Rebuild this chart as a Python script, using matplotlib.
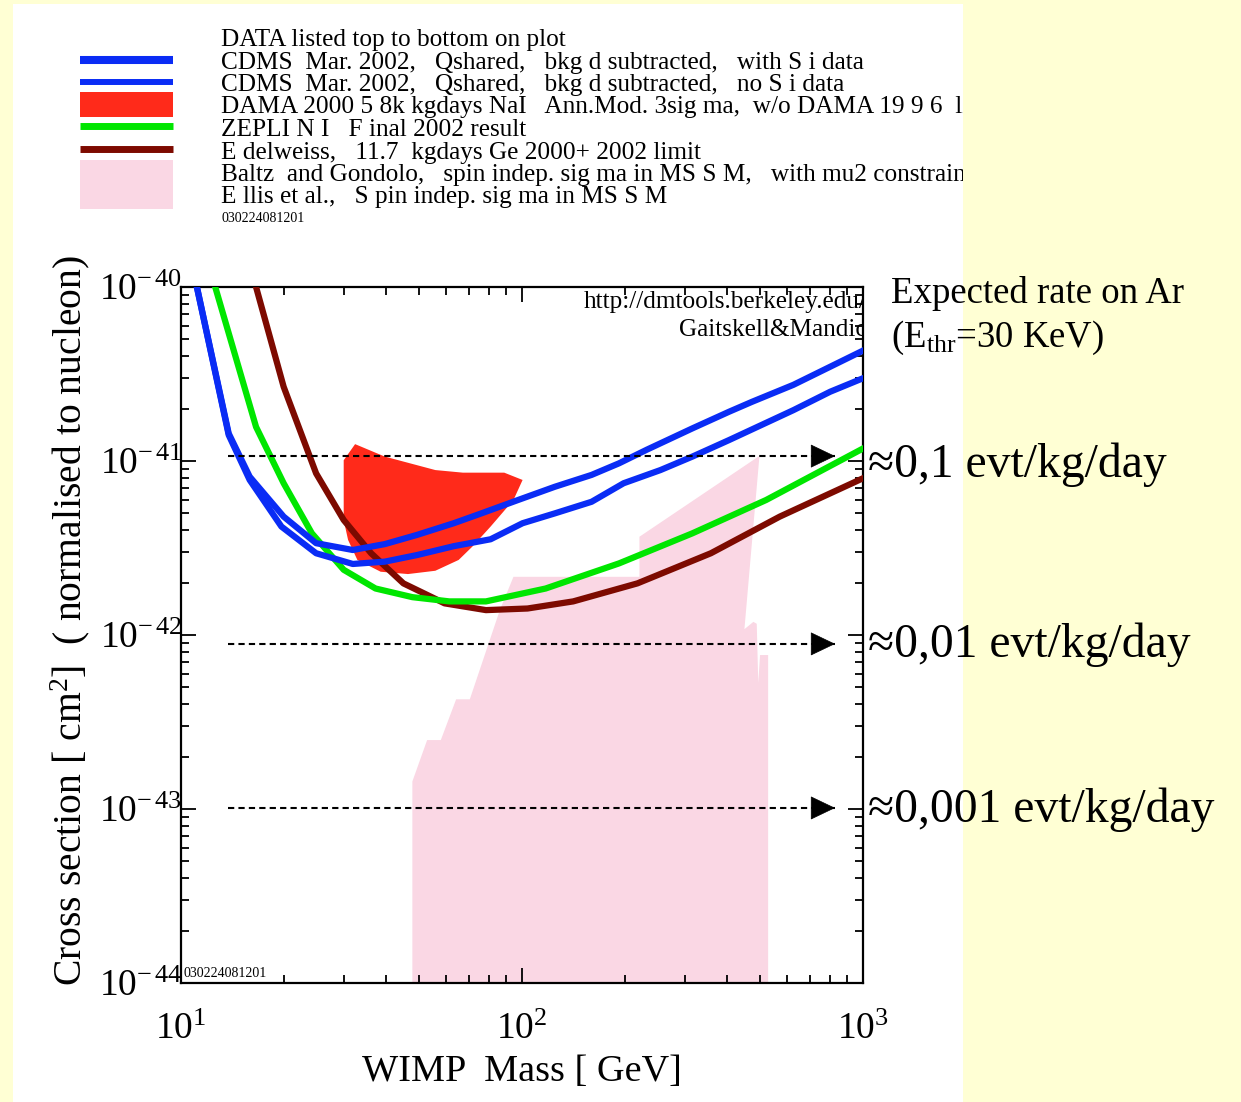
import numpy as np
import matplotlib.pyplot as plt
from matplotlib.patches import Rectangle
from matplotlib.ticker import LogLocator, NullFormatter

plt.rcParams['font.family'] = ['Liberation Serif', 'DejaVu Serif']
plt.rcParams['mathtext.fontset'] = 'custom'
plt.rcParams['mathtext.rm'] = 'Liberation Serif'
plt.rcParams['mathtext.it'] = 'Liberation Serif:italic'

# --- data (WIMP mass in GeV, cross section in cm^2) ---
cdms_si_mass = [10.5, 13.8, 15.9, 20.0, 24.9, 31.9, 39.6, 49.2, 63.1, 76.0, 97.4,
                124.8, 160, 192.6, 232, 316, 405, 473, 625, 801, 1000]
cdms_si_sigma = [1.7e-40, 1.44e-41, 8.13e-42, 4.79e-42, 3.37e-42, 3.08e-42, 3.33e-42,
                 3.76e-42, 4.39e-42, 5.00e-42, 5.97e-42, 7.11e-42, 8.32e-42, 9.70e-42,
                 1.16e-41, 1.54e-41, 1.92e-41, 2.19e-41, 2.74e-41, 3.48e-41, 4.31e-41]

cdms_nosi_mass = [10.5, 13.8, 15.9, 19.7, 24.9, 31.9, 39.6, 49.2, 63.1, 80.9, 100.4,
                  124.8, 160, 198.6, 254.7, 316, 405, 625, 801, 1000]
cdms_nosi_sigma = [1.7e-40, 1.41e-41, 7.78e-42, 4.20e-42, 2.95e-42, 2.56e-42, 2.64e-42,
                   2.88e-42, 3.24e-42, 3.55e-42, 4.39e-42, 5.00e-42, 5.83e-42, 7.45e-42,
                   8.87e-42, 1.06e-41, 1.32e-41, 1.96e-41, 2.50e-41, 2.99e-41]

zeplin_mass = [12.0, 12.6, 16.6, 20.0, 24.2, 30.0, 37.2, 47.7, 61.2, 78.4, 117.3,
               192.6, 316, 520, 1000]
zeplin_sigma = [1.38e-40, 1.0e-40, 1.57e-41, 7.45e-42, 3.84e-42, 2.37e-42, 1.85e-42,
                1.65e-42, 1.56e-42, 1.56e-42, 1.85e-42, 2.58e-42, 3.84e-42, 5.97e-42,
                1.18e-41]

edel_mass = [16.0, 16.6, 20.0, 24.9, 30.0, 36.1, 44.9, 59.3, 78.4, 103.8, 141.3,
             218, 358, 570, 1000]
edel_sigma = [1.3e-40, 1.0e-40, 2.67e-41, 8.49e-42, 4.58e-42, 2.95e-42, 1.98e-42,
              1.52e-42, 1.39e-42, 1.42e-42, 1.56e-42, 1.98e-42, 2.95e-42, 4.79e-42,
              7.96e-42]

dama_mass = [30.0, 32.4, 39.6, 55.7, 67.1, 88.7, 100.4, 94.4, 80.9, 71.5, 65.2,
             55.7, 46.3, 38.5, 32.9, 30.9, 30.0]
dama_sigma = [1.01e-41, 1.25e-41, 1.06e-41, 8.87e-42, 8.57e-42, 8.57e-42, 7.78e-42,
              5.97e-42, 4.20e-42, 3.22e-42, 2.70e-42, 2.34e-42, 2.24e-42, 2.31e-42,
              2.70e-42, 3.52e-42, 4.58e-42]

mssm_mass = [47.7, 47.7, 52.7, 57.8, 64.1, 70.3, 86.1, 94.4, 221, 221, 497, 449,
             477, 488, 493, 499, 516, 527, 527]
mssm_sigma = [1e-44, 1.44e-43, 2.49e-43, 2.49e-43, 4.27e-43, 4.27e-43, 1.39e-42,
              2.16e-42, 2.16e-42, 3.67e-42, 1.07e-41, 1.08e-42, 1.19e-42, 1.16e-42,
              5.30e-43, 7.67e-43, 7.67e-43, 7.67e-43, 1e-44]

# expected-rate markers on argon
rate_sigma = [1.067e-41, 8.89e-43, 1.014e-43]
rate_labels = ['≈0,1 evt/kg/day', '≈0,01 evt/kg/day', '≈0,001 evt/kg/day']
arrow_start, arrow_tip = 13.74, 828

xticks = [10, 100, 1000]
xticklabels = [r'$\mathrm{10^{1}}$', r'$\mathrm{10^{2}}$', r'$\mathrm{10^{3}}$']
yticks = [1e-44, 1e-43, 1e-42, 1e-41, 1e-40]
yticklabels = [r'$\mathrm{10^{-\,44}}$', r'$\mathrm{10^{-\,43}}$', r'$\mathrm{10^{-\,42}}$',
               r'$\mathrm{10^{-\,41}}$', r'$\mathrm{10^{-\,40}}$']

legend_labels = ['DATA listed top to bottom on plot',
                 'CDMS  Mar. 2002,   Qshared,   bkg d subtracted,   with S i data',
                 'CDMS  Mar. 2002,   Qshared,   bkg d subtracted,   no S i data',
                 'DAMA 2000 5 8k kgdays NaI   Ann.Mod. 3sig ma,  w/o DAMA 19 9 6  limit',
                 'ZEPLI N I   F inal 2002 result',
                 'E delweiss,   11.7  kgdays Ge 2000+ 2002 limit',
                 'Baltz  and Gondolo,   spin indep. sig ma in MS S M,   with mu2 constraint',
                 'E llis et al.,   S pin indep. sig ma in MS S M']

BLUE = '#0a2cf5'
RED = '#ff2a1a'
GREEN = '#00e600'
BROWN = '#7d0a00'
PINK = '#fad7e4'
YELLOW = '#ffffd4'

W, H = 1241, 1102
fig = plt.figure(figsize=(W / 100, H / 100), dpi=100, facecolor=YELLOW)

# page layer, pixel coordinates
bg = fig.add_axes([0, 0, 1, 1], zorder=0)
bg.set_xlim(0, W)
bg.set_ylim(H, 0)
bg.axis('off')
bg.add_patch(Rectangle((13, 4), 950, H, facecolor='white', edgecolor='none', zorder=0))

# legend swatches
bg.plot([80, 173], [60, 60], color=BLUE, lw=5.8, solid_capstyle='butt', zorder=2)
bg.plot([80, 173], [82, 82], color=BLUE, lw=4.3, solid_capstyle='butt', zorder=2)
bg.add_patch(Rectangle((80, 92), 93, 25, facecolor=RED, edgecolor='none', zorder=2))
bg.plot([80, 173], [126, 126], color=GREEN, lw=5, solid_capstyle='butt', zorder=2)
bg.plot([80, 173], [149, 149], color=BROWN, lw=5, solid_capstyle='butt', zorder=2)
bg.add_patch(Rectangle((80, 160), 93, 49, facecolor=PINK, edgecolor='none', zorder=2))
for i, lab in enumerate(legend_labels):
    bg.text(221, 46 + 22.5 * i, lab, fontsize=18.2, va='baseline', zorder=3)
bg.text(221, 222, '030224081201', fontsize=10, va='baseline', zorder=3)
# legend text runs off the white page
bg.add_patch(Rectangle((963, 0), W - 963, 240, facecolor=YELLOW, edgecolor='none', zorder=4))

bg.text(891, 303, 'Expected rate on Ar', fontsize=26.5, va='baseline', zorder=5)
bg.text(891, 347, r'(E$_{\mathrm{thr}}$=30 KeV)', fontsize=26.5, va='baseline', zorder=5)
for base, lab in zip([477, 657, 822], rate_labels):
    bg.text(868, base, lab, fontsize=34.3, va='baseline', zorder=5)

# main plot
ax = fig.add_axes([181 / W, 1 - 983 / H, 682 / W, 696 / H], zorder=2)
ax.set_xscale('log')
ax.set_yscale('log')

ax.fill(mssm_mass, mssm_sigma, color=PINK, lw=0, zorder=1)
ax.fill(dama_mass, dama_sigma, color=RED, lw=0, zorder=2)
ax.plot(edel_mass, edel_sigma, color=BROWN, lw=4.5, zorder=3)
ax.plot(zeplin_mass, zeplin_sigma, color=GREEN, lw=4.5, zorder=3)
ax.plot(cdms_nosi_mass, cdms_nosi_sigma, color=BLUE, lw=4.5, zorder=4)
ax.plot(cdms_si_mass, cdms_si_sigma, color=BLUE, lw=4.5, zorder=4)

for s in rate_sigma:
    ax.plot([arrow_start, arrow_tip], [s, s], color='k', lw=1.5, ls=(0, (3, 2)), zorder=6)
    ax.annotate('', xy=(arrow_tip, s), xytext=(-17, 0), textcoords='offset points',
                arrowprops=dict(arrowstyle='-|>,head_length=0.92,head_width=0.44',
                                color='k', lw=0.5, mutation_scale=18,
                                shrinkA=0, shrinkB=0), zorder=7)

ax.set_xlim(10, 1000)
ax.set_ylim(1e-44, 1e-40)
ax.set_xticks(xticks, xticklabels)
ax.set_yticks(yticks, yticklabels)
ax.xaxis.set_minor_locator(LogLocator(base=10, subs=np.arange(2, 10)))
ax.yaxis.set_minor_locator(LogLocator(base=10, subs=np.arange(2, 10)))
ax.xaxis.set_minor_formatter(NullFormatter())
ax.yaxis.set_minor_formatter(NullFormatter())
ax.tick_params(which='both', direction='in', top=True, right=True, width=1.3)
ax.tick_params(which='major', length=11, labelsize=27)
ax.tick_params(which='minor', length=6)
ax.tick_params(axis='x', which='major', pad=21)
ax.tick_params(axis='y', which='major', pad=-1)
for sp in ax.spines.values():
    sp.set_linewidth(1.6)

ax.set_xlabel('WIMP  Mass [ GeV]', fontsize=27.5, labelpad=6)
ax.set_ylabel(r'Cross section [ cm$^2$]  ( normalised to nucleon)', fontsize=28.5)
ax.yaxis.set_label_coords(-0.131, 0.52)

ax.text(1.005, 0.978, 'http://dmtools.berkeley.edu/', transform=ax.transAxes,
        fontsize=18.2, ha='right', va='center', clip_on=True)
ax.text(1.005, 0.938, 'Gaitskell&Mandic', transform=ax.transAxes,
        fontsize=18.2, ha='right', va='center', clip_on=True)
ax.text(0.003, 0.005, '030224081201', transform=ax.transAxes, fontsize=10,
        ha='left', va='bottom')

fig.savefig('out.png', dpi=100, facecolor=YELLOW)
